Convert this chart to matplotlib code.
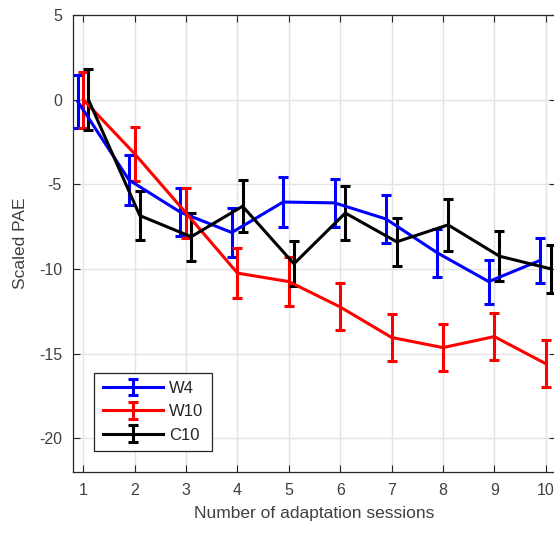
import matplotlib
matplotlib.use("Agg")
import matplotlib.pyplot as plt
import numpy as np

plt.rcParams['font.family'] = ['Liberation Sans', 'DejaVu Sans']
plt.rcParams['axes.unicode_minus'] = False

sessions = np.arange(1, 11)

# scaled PAE, mean and error half-width per session
w4_mean = [-0.1, -4.75, -6.65, -7.85, -6.05, -6.1, -7.05, -9.05, -10.75, -9.5]
w4_err = [1.55, 1.45, 1.43, 1.43, 1.45, 1.43, 1.4, 1.4, 1.3, 1.35]
w10_mean = [0.0, -3.2, -6.7, -10.25, -10.75, -12.25, -14.05, -14.65, -14.0, -15.6]
w10_err = [1.65, 1.6, 1.5, 1.47, 1.44, 1.39, 1.4, 1.4, 1.39, 1.37]
c10_mean = [0.0, -6.85, -8.1, -6.3, -9.7, -6.7, -8.4, -7.4, -9.25, -10.0]
c10_err = [1.8, 1.47, 1.41, 1.54, 1.34, 1.6, 1.4, 1.54, 1.47, 1.4]

fig = plt.figure(figsize=(5.54, 5.33), dpi=100)
ax = fig.add_axes([73/554, 61/533, 483/554, 457/533])

kw = dict(lw=2.2, capsize=3.6, capthick=2.2, elinewidth=2.2)
ax.errorbar(sessions - 0.11, w4_mean, yerr=w4_err, color=(0, 0, 1), label='W4', **kw)
ax.errorbar(sessions, w10_mean, yerr=w10_err, color=(1, 0, 0), label='W10', **kw)
ax.errorbar(sessions + 0.1, c10_mean, yerr=c10_err, color='k', label='C10', **kw)

ax.set_xlim(0.8, 10.2)
ax.set_ylim(-22, 5)
ax.set_xticks(sessions)
ax.set_yticks([-20, -15, -10, -5, 0, 5])
ax.grid(True, color='#e3e3e3', lw=1)
ax.set_axisbelow(True)
for s in ax.spines.values():
    s.set_color('#262626')
    s.set_linewidth(0.9)
ax.tick_params(direction='in', length=5, top=True, right=True, colors='#262626',
               labelsize=11.5, pad=8, labelcolor='#404040')
ax.set_xlabel('Number of adaptation sessions', fontsize=12.5, color='#404040', labelpad=6)
ax.set_ylabel('Scaled PAE', fontsize=12.5, color='#404040', labelpad=8)

leg = ax.legend(loc='lower left', bbox_to_anchor=(0.044, 0.046), fontsize=12,
                handlelength=3.6, handletextpad=0.4, fancybox=False, framealpha=1,
                borderaxespad=0, labelspacing=0.5, borderpad=0.5)
leg.get_frame().set_edgecolor('#262626')
leg.get_frame().set_linewidth(0.9)
for t in leg.get_texts():
    t.set_color('#262626')

fig.savefig('out.png', dpi=100)
